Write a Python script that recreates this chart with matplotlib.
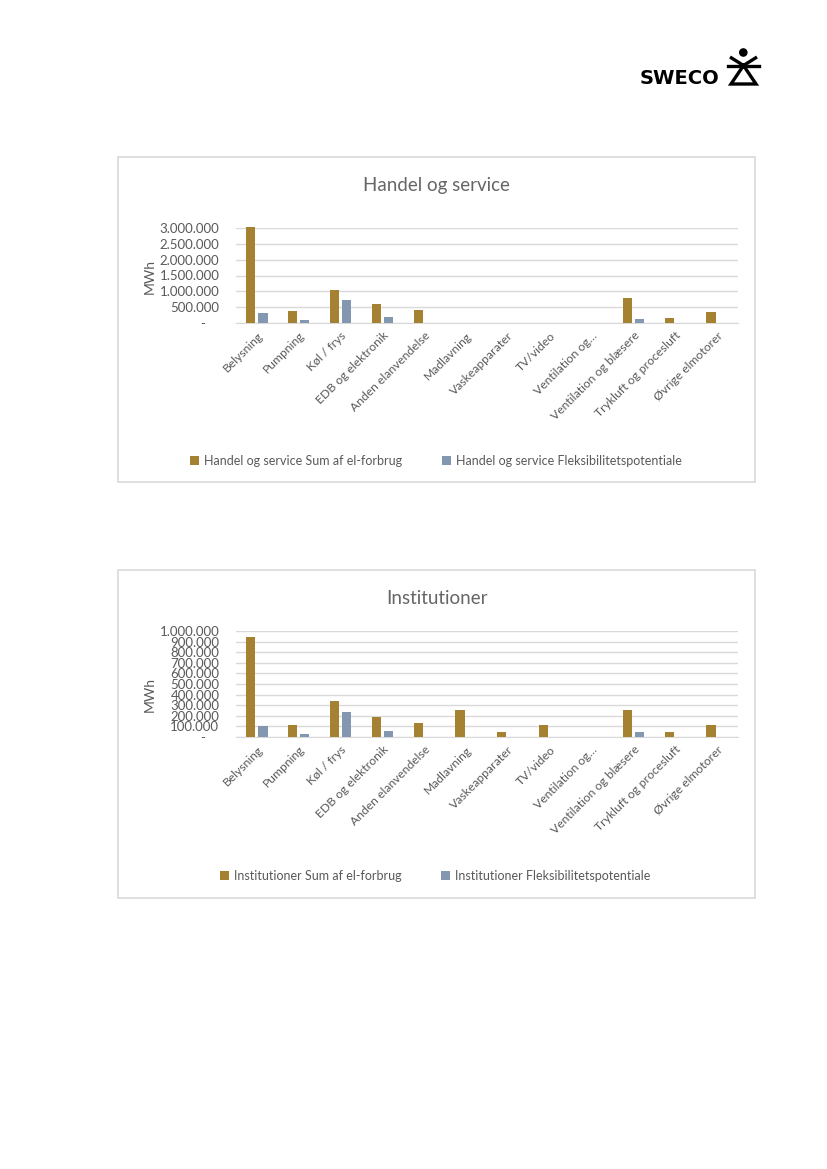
import matplotlib
matplotlib.use("Agg")
import matplotlib.pyplot as plt
from matplotlib.patches import Rectangle, Circle
from matplotlib.ticker import FuncFormatter
import numpy as np

categories = ["Belysning", "Pumpning", "Køl / frys", "EDB og elektronik",
              "Anden elanvendelse", "Madlavning", "Vaskeapparater", "TV/video",
              "Ventilation og…", "Ventilation og blæsere", "Trykluft og procesluft",
              "Øvrige elmotorer"]

handel_sum = [3020000, 375000, 1050000, 590000, 400000, 0, 0, 0, 0, 790000, 146000, 354000]
handel_flex = [320000, 80000, 730000, 180000, 0, 0, 0, 0, 0, 125000, 0, 0]
handel_ticks = [0, 500000, 1000000, 1500000, 2000000, 2500000, 3000000]

inst_sum = [945000, 117000, 335000, 188000, 132000, 252000, 50000, 110000, 0, 252000, 50000, 110000]
inst_flex = [105000, 30000, 234000, 58000, 0, 0, 0, 0, 0, 43000, 0, 0]
inst_ticks = [0, 100000, 200000, 300000, 400000, 500000, 600000, 700000, 800000, 900000, 1000000]

GOLD = "#A58232"
BLUE = "#8497B0"
GRAY = "#595959"
TITLE_GRAY = "#666666"
GRID = "#D9D9D9"
FONT = "Lato"

W, H = 827, 1169
fig = plt.figure(figsize=(W / 100, H / 100), dpi=100)
plt.rcParams['font.family'] = [FONT, 'DejaVu Sans']

# background overlay in pixel coordinates
bg = fig.add_axes([0, 0, 1, 1])
bg.set_xlim(0, W)
bg.set_ylim(H, 0)
bg.axis("off")


def fmt(v, pos):
    if v == 0:
        return "-    "
    return f"{int(round(v)):,}".replace(",", ".")


def make_chart(box, plot, title, title_y, ylabel_xy, s_sum, s_flex, ticks, prefix, legend_y, leg_x):
    x0, y0, x1, y1 = box
    bg.add_patch(Rectangle((x0, y0), x1 - x0, y1 - y0, fill=False, ec=GRID, lw=1.2))
    px0, py0, px1, py1 = plot
    ax = fig.add_axes([px0 / W, 1 - py1 / H, (px1 - px0) / W, (py1 - py0) / H])
    x = np.arange(len(categories))
    w = 0.22
    b1 = ax.bar(x - 0.145, s_sum, width=w, color=GOLD, clip_on=False,
                label=f"{prefix} Sum af el-forbrug", zorder=3)
    b2 = ax.bar(x + 0.145, s_flex, width=w, color=BLUE, clip_on=False,
                label=f"{prefix} Fleksibilitetspotentiale", zorder=3)
    ax.set_xlim(-0.5, len(categories) - 0.5)
    ax.set_ylim(0, ticks[-1])
    ax.set_yticks(ticks)
    ax.yaxis.set_major_formatter(FuncFormatter(fmt))
    ax.grid(axis="y", color=GRID, lw=1.0, zorder=0)
    for s in ["top", "right", "left"]:
        ax.spines[s].set_visible(False)
    ax.spines["bottom"].set_color(GRID)
    ax.tick_params(axis="both", length=0, colors=GRAY)
    ax.tick_params(axis="y", labelsize=9.5, pad=12)
    ax.set_xticks(x)
    ax.set_xticklabels(categories, rotation=45, ha="right", va="top",
                       rotation_mode="anchor", fontsize=8.7, color=GRAY)
    ax.tick_params(axis="x", pad=5)
    fig.text((x0 + x1) / 2 / W, 1 - title_y / H, title, ha="center", va="center",
             fontsize=13.5, color=TITLE_GRAY)
    fig.text(ylabel_xy[0] / W, 1 - ylabel_xy[1] / H, "MWh", rotation=90,
             ha="center", va="center", fontsize=10, color=GRAY)
    handles = [b1, b2]
    leg = fig.legend(handles=handles, loc="center left",
                     bbox_to_anchor=(leg_x[0] / W, 1 - legend_y / H), ncol=2,
                     frameon=False, fontsize=9, handlelength=0.7, handleheight=0.7,
                     handletextpad=0.4, columnspacing=3.2, borderaxespad=0, borderpad=0)
    for t in leg.get_texts():
        t.set_color(GRAY)
    return ax


make_chart((118, 157, 755, 482), (236, 228, 738, 323), "Handel og service", 186,
           (150, 276), handel_sum, handel_flex, handel_ticks, "Handel og service", 461, (190, 441))
make_chart((118, 570, 755, 898), (236, 631, 738, 737), "Institutioner", 599,
           (150, 694), inst_sum, inst_flex, inst_ticks, "Institutioner", 876, (220, 439))

# SWECO logo
bg.text(640, 78, "SWECO", fontsize=14, fontweight="bold", family="DejaVu Sans",
        ha="left", va="center", color="black")
lw = 2.4
bg.add_patch(Circle((743.3, 52.5), 3.6, color="black"))
bg.plot([730, 743.5, 757], [57, 65.5, 57], color="black", lw=lw, solid_capstyle="butt")
bg.plot([728, 759], [65.5, 65.5], color="black", lw=lw)
bg.plot([743.5, 731, 756, 743.5], [65.5, 84, 84, 65.5], color="black", lw=lw,
        solid_joinstyle="miter")

fig.savefig("out.png", dpi=100)
